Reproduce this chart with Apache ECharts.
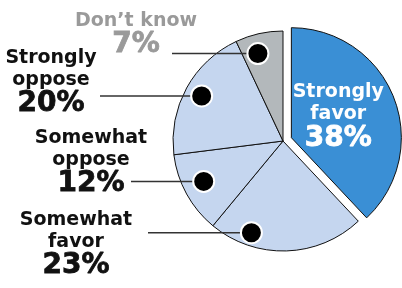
<!DOCTYPE html>
<html>
<head>
<meta charset="utf-8">
<script src="https://cdn.jsdelivr.net/npm/echarts@6/dist/echarts.min.js"></script>
<style>
html, body { margin: 0; padding: 0; background: #fff; }
#chart { width: 402px; height: 288px; }
</style>
</head>
<body>
<div id="chart"></div>
<script>
// pie slices, clockwise from 12 o'clock
var categories = ['Strongly favor', 'Somewhat favor', 'Somewhat oppose', 'Strongly oppose', 'Don\u2019t know'];
var shares = [38, 23, 12, 20, 7];
var sliceColors = ['#3a8fd5', '#c5d6ef', '#c5d6ef', '#c5d6ef', '#b3b8bb'];

// callout markers for the four left slices: radius (px) and angle (deg, clockwise from top)
var markerRadius = [97, 89, 93, 91];
var markerAngle = [199, 243, 299, 344];
var markerWords = [['Somewhat', 'favor'], ['Somewhat', 'oppose'], ['Strongly', 'oppose'], ['Don\u2019t know']];

// where each callout text sits
var labelCenterX = [76, 91, 51, 136];
var labelTop = [209, 127, 47, 10];
var lineStartX = [148, 131, 100, 172];

var CX = 283, CY = 141, R = 110;
var FONT = '"DejaVu Sans", sans-serif';

// label styles (echarts label model)
function richFor(color) {
    return {
        n: { fontFamily: FONT, fontWeight: 'bold', fontSize: 19, lineHeight: 22, color: color },
        p: { fontFamily: FONT, fontWeight: 'bold', fontSize: 28, lineHeight: 26, color: color,
             textBorderColor: color, textBorderWidth: 0.8 }
    };
}
// same styles for raw zrender text in the custom series
function zrRichFor(color) {
    return {
        n: { fontFamily: FONT, fontWeight: 'bold', fontSize: 19, lineHeight: 22, fill: color },
        p: { fontFamily: FONT, fontWeight: 'bold', fontSize: 28, lineHeight: 26, fill: color,
             stroke: color, lineWidth: 0.8 }
    };
}

var pieData = categories.map(function (name, i) {
    var item = { name: name, value: shares[i], itemStyle: { color: sliceColors[i] } };
    if (i === 0) {
        item.selected = true;
        item.label = {
            show: true,
            position: 'inside',
            formatter: '{n|Strongly}\n{n|favor}\n{p|' + shares[0] + '%}',
            rich: richFor('#fff')
        };
    }
    return item;
});

var markerData = markerRadius.map(function (r, i) { return [r, markerAngle[i]]; });

var dom = document.getElementById('chart');
var myChart = echarts.init(dom);
var option = {
    animation: false,
    polar: { center: [CX, CY], radius: R },
    angleAxis: { type: 'value', min: 0, max: 360, startAngle: 90, clockwise: true, show: false },
    radiusAxis: { type: 'value', min: 0, max: R, show: false },
    series: [{
        type: 'pie',
        center: [CX, CY],
        radius: R,
        startAngle: 90,
        clockwise: true,
        selectedMode: 'single',
        selectedOffset: 9,
        silent: true,
        itemStyle: { borderColor: '#111', borderWidth: 1 },
        label: { show: false },
        labelLine: { show: false },
        labelLayout: { dx: -7, dy: 0 },
        data: pieData
    }, {
        type: 'custom',
        coordinateSystem: 'polar',
        silent: true,
        z: 5,
        data: markerData,
        renderItem: function (params, api) {
            var i = params.dataIndex;
            var p = api.coord([api.value(0), api.value(1)]);
            var color = i === 3 ? '#9a9a9a' : '#111';
            var txt = markerWords[i].map(function (w) { return '{n|' + w + '}'; }).join('\n') +
                '\n{p|' + shares[i + 1] + '%}';
            return {
                type: 'group',
                children: [{
                    type: 'line',
                    shape: { x1: lineStartX[i], y1: p[1], x2: p[0], y2: p[1] },
                    style: { stroke: '#333', lineWidth: 1.5 }
                }, {
                    type: 'circle',
                    shape: { cx: p[0], cy: p[1], r: 10.5 },
                    style: { fill: '#000', stroke: '#fff', lineWidth: 2 }
                }, {
                    type: 'text',
                    x: labelCenterX[i],
                    y: labelTop[i],
                    style: {
                        text: txt,
                        rich: zrRichFor(color),
                        align: 'center',
                        verticalAlign: 'top'
                    }
                }]
            };
        }
    }]
};
myChart.setOption(option);
</script>
</body>
</html>
